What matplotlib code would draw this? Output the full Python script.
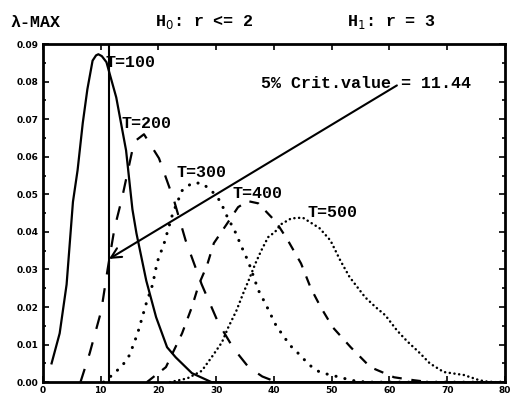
import matplotlib
matplotlib.use('Agg')
import matplotlib.pyplot as plt
from matplotlib.ticker import MultipleLocator

# values
t100_x = [1.5, 2.9, 4.1, 5.2, 6.0, 6.9, 7.7, 8.6, 9.2, 9.6, 10.2, 11.0, 12.7, 14.4, 15.5, 16.2, 17.9, 19.6, 21.5, 23.0, 25.8, 29.2, 80]
t100_y = [0.005, 0.013, 0.026, 0.048, 0.0564, 0.069, 0.078, 0.0856, 0.0870, 0.0873, 0.0868, 0.0852, 0.0758, 0.0617, 0.046, 0.0396, 0.027, 0.0173, 0.0093, 0.0066, 0.0024, 0.0, 0.0]

t200_x = [6.5, 8.1, 10.1, 11.2, 12.4, 13.7, 15.8, 17.5, 20.1, 22.7, 24.7, 27.5, 30.4, 33.0, 35.6, 38.0, 40.5, 80]
t200_y = [0.0, 0.0077, 0.019, 0.030, 0.041, 0.049, 0.064, 0.066, 0.0596, 0.0484, 0.0378, 0.026, 0.0157, 0.009, 0.004, 0.0015, 0.0, 0.0]

t300_x = [10.5, 12.1, 13.8, 15.0, 16.4, 17.9, 19.0, 19.8, 21.0, 22.5, 24.1, 25.8, 27.5, 29.2, 30.8, 31.6, 33.3, 34.7, 35.6,
          37.3, 38.5, 40.4, 42.8, 44.2, 46.2, 47.9, 49.8, 51.5, 53.3, 56.0, 80]
t300_y = [0.0, 0.002, 0.0045, 0.0072, 0.013, 0.021, 0.026, 0.032, 0.037, 0.045, 0.051, 0.053, 0.053, 0.051, 0.048, 0.045, 0.040, 0.035, 0.032,
          0.0245, 0.021, 0.015, 0.0098, 0.0077, 0.0045, 0.0027, 0.0019, 0.0013, 0.0005, 0.0, 0.0]

t400_x = [18.0, 21.3, 24.1, 25.8, 27.0, 28.4, 29.6, 31.8, 33.8, 35.5, 37.3, 40.4, 42.4, 44.7, 46.4, 48.1, 50.2, 53.3, 56.7, 60.8, 64.3, 67.0, 80]
t400_y = [0.0, 0.004, 0.013, 0.020, 0.026, 0.031, 0.037, 0.042, 0.0466, 0.0482, 0.0476, 0.0426, 0.0378, 0.0316, 0.025, 0.020, 0.0146, 0.0093, 0.004, 0.0013, 0.0005, 0.0, 0.0]

t500_x = [22.0, 25.0, 27.5, 29.2, 31.0, 32.1, 33.5, 34.7, 35.6, 36.8, 37.8, 39.0, 40.2, 41.2, 43.0, 45.0, 47.9, 49.8, 51.5,
          53.1, 55.8, 57.6, 59.3, 61.3, 63.0, 65.3, 67.0, 69.4, 72.9, 75.6, 77.5, 80]
t500_y = [0.0, 0.001, 0.003, 0.0066, 0.0106, 0.0146, 0.019, 0.0237, 0.027, 0.0316, 0.035, 0.0386, 0.040, 0.042, 0.0436, 0.0438, 0.041, 0.0377, 0.0324,
          0.028, 0.0226, 0.020, 0.0178, 0.0138, 0.011, 0.0077, 0.005, 0.0027, 0.0019, 0.0005, 0.0, 0.0]

crit_value = 11.44
labels = ['T=100', 'T=200', 'T=300', 'T=400', 'T=500']
label_x = [10.9, 13.6, 23.1, 32.9, 45.8]
label_y = [0.0851, 0.0689, 0.0559, 0.0502, 0.0452]

plt.rcParams['lines.scale_dashes'] = False
font = ['Liberation Mono', 'DejaVu Sans Mono']

fig = plt.figure(figsize=(5.11, 4.01), dpi=100)
ax = fig.add_axes([0.084, 0.047, 0.904, 0.843])

lw = 1.6
ax.plot(t100_x, t100_y, color='black', lw=lw)
ax.plot(t200_x, t200_y, color='black', lw=lw, linestyle=(0, (10, 10)))
ax.plot(t300_x, t300_y, color='black', lw=2.2, linestyle=(0, (0.1, 6.5)), dash_capstyle='round')
ax.plot(t400_x, t400_y, color='black', lw=lw, linestyle=(0, (7, 7)))
ax.plot(t500_x, t500_y, color='black', lw=1.8, linestyle=(0, (0.1, 3.3)), dash_capstyle='round')

ax.axvline(crit_value, color='black', lw=1.5)

for lab, lx, ly in zip(labels, label_x, label_y):
    ax.text(lx, ly, lab, family=font, fontweight='bold', fontsize=12, va='center', ha='left')

ax.text(37.8, 0.0795, '5% Crit.value = 11.44', family=font, fontweight='bold', fontsize=12, va='center', ha='left')
ax.annotate('', xy=(crit_value, 0.0328), xytext=(61.3, 0.079),
            arrowprops=dict(arrowstyle='->', color='black', lw=1.5, mutation_scale=18, shrinkA=0, shrinkB=0))

ax.set_xlim(0, 80)
ax.set_ylim(0, 0.09)
ax.xaxis.set_major_locator(MultipleLocator(10))
ax.yaxis.set_major_locator(MultipleLocator(0.01))
ax.yaxis.set_minor_locator(MultipleLocator(0.005))
ax.set_yticks(ax.get_yticks())
ax.set_yticklabels(['%.2f' % v for v in ax.get_yticks()])
ax.tick_params(which='both', direction='in', top=True, right=True, width=1.2)
ax.tick_params(which='major', length=4, labelsize=6.5, pad=3)
ax.tick_params(which='minor', length=2)
ax.set_ylim(0, 0.09)
fig.canvas.draw()
xlabs = ax.get_xticklabels()
for t in xlabs + ax.get_yticklabels():
    t.set_fontweight('bold')
xlabs[-1].set_horizontalalignment('right')
for s in ax.spines.values():
    s.set_linewidth(2.0)

fig.text(0.02, 0.945, 'λ-MAX', family=font, fontweight='bold', fontsize=12, va='center')
fig.text(0.303, 0.945, 'H$_0$: r <= 2', family=font, fontweight='bold', fontsize=12, va='center')
fig.text(0.68, 0.945, 'H$_1$: r = 3', family=font, fontweight='bold', fontsize=12, va='center')

fig.savefig('out.png', dpi=100)
